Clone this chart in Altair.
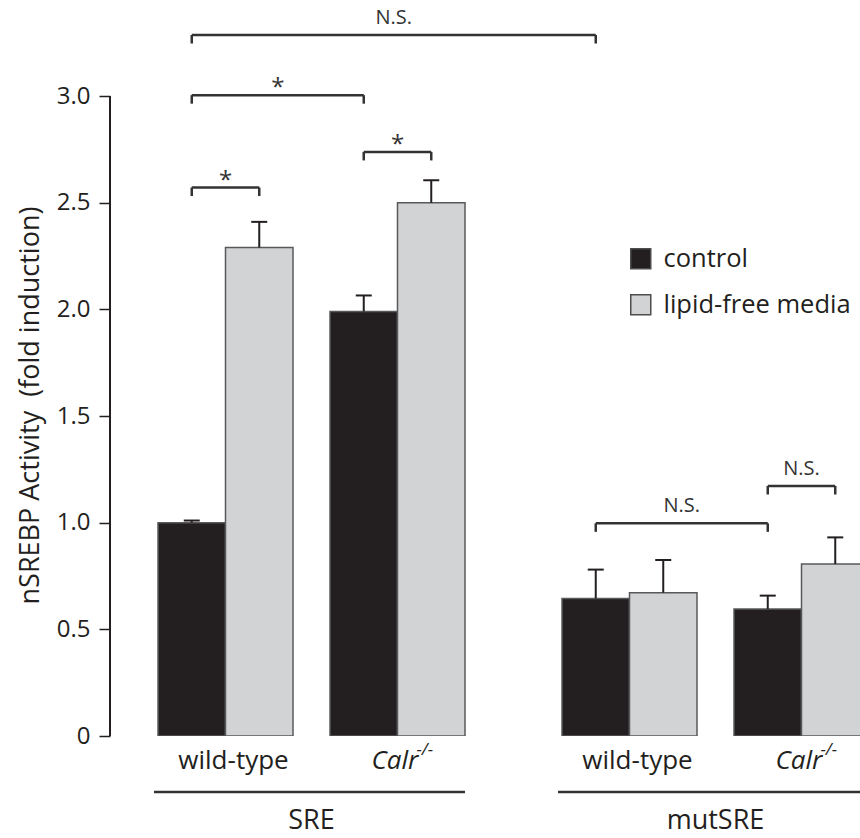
import altair as alt
import pandas as pd

# ---------------- data ----------------
sets = ["SRE", "mutSRE"]
genotypes = ["wild-type", "Calr"]
genotype_sup = ["", "-/-"]
treatments = ["control", "lipid-free media"]

# order: SRE/wild-type, SRE/Calr, mutSRE/wild-type, mutSRE/Calr
control_mean = [1.00, 1.99, 0.645, 0.595]
control_err = [0.01, 0.075, 0.135, 0.063]
lipid_mean = [2.29, 2.50, 0.672, 0.806]
lipid_err = [0.12, 0.105, 0.153, 0.125]

# brackets: (bar index from, bar index to, level, label)
bracket_from = [0, 0, 2, 0, 4, 6]
bracket_to = [4, 2, 3, 1, 6, 7]
bracket_level = [3.286, 3.004, 2.738, 2.571, 0.997, 1.172]
bracket_label = ["N.S.", "*", "*", "*", "N.S.", "N.S."]

y_ticks = [0, 0.5, 1.0, 1.5, 2.0, 2.5, 3.0]

# ---------------- layout (pixels along x scale) ----------------
W, H = 750, 736
BW = 67.5
FIRST = 48
PAIR_PITCH = 172
SET_PITCH = 404
TICK = 0.04
FONT = "Open Sans"
DARK = "#231f20"

means = [control_mean, lipid_mean]
errs = [control_err, lipid_err]

rows = []
for s_i, s in enumerate(sets):
    for g_i, g in enumerate(genotypes):
        for t_i, t in enumerate(treatments):
            k = s_i * 2 + g_i
            left = FIRST + s_i * SET_PITCH + g_i * PAIR_PITCH + t_i * BW
            m = means[t_i][k]
            e = errs[t_i][k]
            rows.append(dict(set=s, genotype=g, treatment=t, x0=left, x1=left + BW,
                             xc=left + BW / 2, value=m, top=m + e,
                             c0=left + BW / 2 - 8, c1=left + BW / 2 + 8))
bars = pd.DataFrame(rows)

pairs = []
for s_i, s in enumerate(sets):
    for g_i, g in enumerate(genotypes):
        left = FIRST + s_i * SET_PITCH + g_i * PAIR_PITCH
        pairs.append(dict(set=s, genotype=g, sup=genotype_sup[g_i], center=left + BW))
pairs = pd.DataFrame(pairs)

set_rows = []
for s_i, s in enumerate(sets):
    left = FIRST + s_i * SET_PITCH
    right = left + PAIR_PITCH + 2 * BW
    set_rows.append(dict(set=s, xs=left - 4, xe=right, xc=(left + right) / 2))
set_df = pd.DataFrame(set_rows)

br = []
for a, b, lv, lab in zip(bracket_from, bracket_to, bracket_level, bracket_label):
    xa = bars.loc[a, "xc"]
    xb = bars.loc[b, "xc"]
    br.append(dict(xa=xa, xb=xb, xm=(xa + xb) / 2, y=lv, yb=lv - TICK, label=lab))
br = pd.DataFrame(br)

axis_df = pd.DataFrame({"y0": [y_ticks[0]], "y1": [y_ticks[-1]]})

xs = alt.Scale(domain=[0, W], nice=False, zero=False)
ys = alt.Scale(domain=[0, 3.45], nice=False, zero=False)

# ---------------- layers ----------------
bar_layer = alt.Chart(bars).mark_bar(stroke="#58595b", strokeWidth=1.5, clip=True).encode(
    x=alt.X("x0:Q", scale=xs, axis=None),
    x2="x1:Q",
    y=alt.Y("value:Q", scale=ys, axis=alt.Axis(
        values=y_ticks, domain=False, grid=False, tickSize=11, tickColor=DARK,
        tickWidth=1.5, labelFontSize=24, labelFont=FONT, labelColor=DARK,
        labelPadding=9,
        labelExpr="datum.value == 0 ? '0' : format(datum.value, '.1f')",
        title="nSREBP Activity\u00a0 (fold induction)", titleFont=FONT,
        titleFontSize=27, titleFontWeight="normal", titleColor=DARK,
        titleAngle=270, titleX=-80, titleY=405, titleAlign="center",
        titleBaseline="middle")),
    y2=alt.Y2("zero:Q"),
    color=alt.Color("treatment:N", scale=alt.Scale(domain=treatments, range=[DARK, "#d1d3d4"]),
                    legend=alt.Legend(title=None, orient="none", legendX=518, legendY=246,
                                      symbolType="square", symbolSize=400,
                                      symbolStrokeColor="#4d4d4d", symbolStrokeWidth=1.5,
                                      labelFont=FONT, labelFontSize=25.5, labelColor=DARK,
                                      labelLimit=0, labelOffset=10, rowPadding=18,
                                      padding=0)),
).transform_calculate(zero="0")

err_line = alt.Chart(bars).mark_rule(color=DARK, strokeWidth=2, clip=True).encode(
    x=alt.X("xc:Q", scale=xs), y=alt.Y("value:Q", scale=ys), y2="top:Q")
err_cap = alt.Chart(bars).mark_rule(color=DARK, strokeWidth=2, clip=True).encode(
    x=alt.X("c0:Q", scale=xs), x2="c1:Q", y=alt.Y("top:Q", scale=ys))

axis_line = alt.Chart(axis_df).mark_rule(color=DARK, strokeWidth=2).encode(
    x=alt.value(0), y=alt.Y("y0:Q", scale=ys), y2="y1:Q")

br_h = alt.Chart(br).mark_rule(color="#333333", strokeWidth=2.5).encode(
    x=alt.X("xa:Q", scale=xs), x2="xb:Q", y=alt.Y("y:Q", scale=ys))
br_l = alt.Chart(br).mark_rule(color="#333333", strokeWidth=2.5).encode(
    x=alt.X("xa:Q", scale=xs), y=alt.Y("y:Q", scale=ys), y2="yb:Q")
br_r = alt.Chart(br).mark_rule(color="#333333", strokeWidth=2.5).encode(
    x=alt.X("xb:Q", scale=xs), y=alt.Y("y:Q", scale=ys), y2="yb:Q")
star = alt.Chart(br).transform_filter("datum.label == '*'").mark_text(
    font=FONT, fontSize=24, color="#333333", baseline="alphabetic", dy=0).encode(
    x=alt.X("xm:Q", scale=xs), y=alt.Y("y:Q", scale=ys), text="label:N")
ns = alt.Chart(br).transform_filter("datum.label != '*'").mark_text(
    font=FONT, fontSize=20, color="#333333", baseline="alphabetic", dy=-11).encode(
    x=alt.X("xm:Q", scale=xs), y=alt.Y("y:Q", scale=ys), text="label:N")

wt_lab = alt.Chart(pairs).transform_filter("datum.genotype == 'wild-type'").mark_text(
    font=FONT, fontSize=26, color=DARK, align="center", baseline="middle", dx=8).encode(
    x=alt.X("center:Q", scale=xs), y=alt.value(761), text="genotype:N")
calr_lab = alt.Chart(pairs).transform_filter("datum.genotype == 'Calr'").mark_text(
    font=FONT, fontSize=26, fontStyle="italic", color=DARK, align="left",
    baseline="middle", dx=-26).encode(
    x=alt.X("center:Q", scale=xs), y=alt.value(761), text="genotype:N")
calr_sup = alt.Chart(pairs).transform_filter("datum.genotype == 'Calr'").mark_text(
    font=FONT, fontSize=17, fontStyle="italic", color=DARK, align="left",
    baseline="middle", dx=19, dy=-11).encode(
    x=alt.X("center:Q", scale=xs), y=alt.value(761), text="sup:N")

set_line = alt.Chart(set_df).mark_rule(color="#333333", strokeWidth=2.5).encode(
    x=alt.X("xs:Q", scale=xs), x2="xe:Q", y=alt.value(792))
set_lab = alt.Chart(set_df).mark_text(
    font=FONT, fontSize=27, color=DARK, align="center", baseline="middle").encode(
    x=alt.X("xc:Q", scale=xs), y=alt.value(821), text="set:N")

chart = alt.layer(
    bar_layer, err_line, err_cap, axis_line, br_h, br_l, br_r, star, ns,
    wt_lab, calr_lab, calr_sup, set_line, set_lab
).properties(
    width=W, height=H,
    autosize=alt.AutoSizeParams(type="none"),
    padding={"left": 110, "top": 0, "right": 0, "bottom": 102},
    background="white",
).configure_view(stroke=None)

chart.save("out.html", embed_options={"renderer": "svg", "actions": False})
